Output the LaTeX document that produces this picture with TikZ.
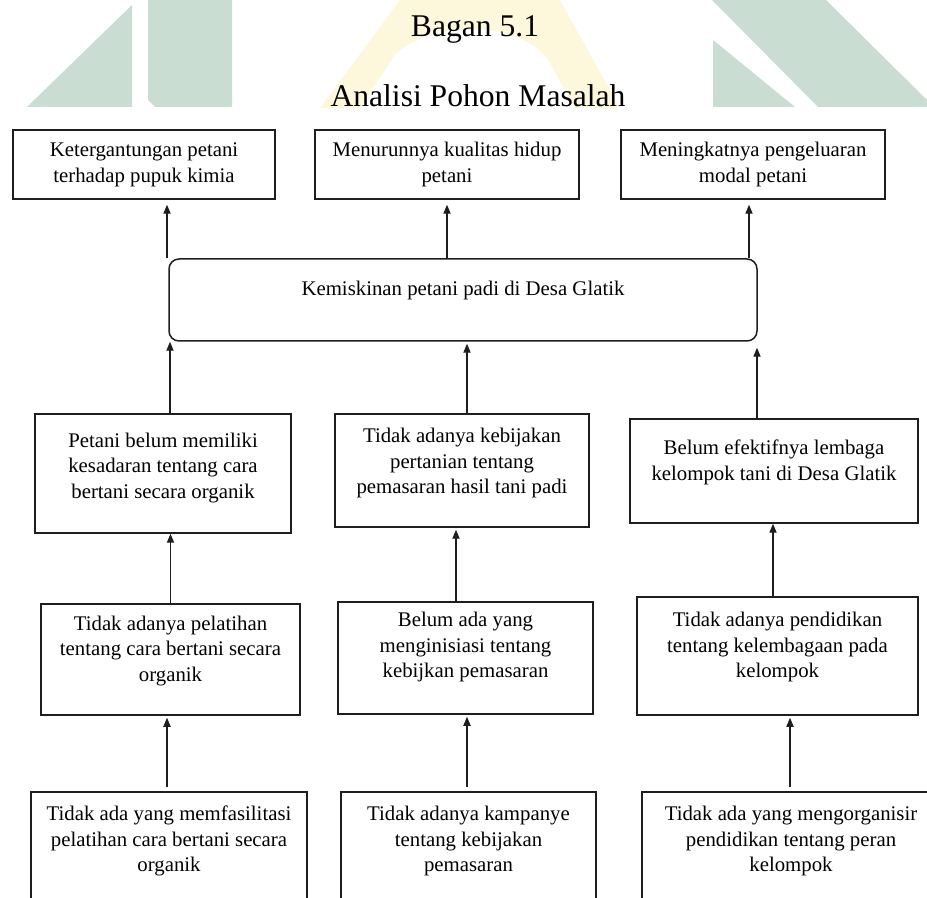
\documentclass[tikz,border=0pt]{standalone}
\usepackage{fontspec}
\setmainfont{Liberation Serif}
\usetikzlibrary{arrows.meta}
\definecolor{vertfond}{RGB}{201,221,210}
\definecolor{jaunefond}{RGB}{253,248,220}
\definecolor{trait}{RGB}{30,30,30}
\tikzset{
  cadre/.style={draw=trait, line width=0.75pt, rectangle, inner sep=0pt},
  texte/.style={align=center, inner sep=0pt, font=\fontsize{10.4}{12.9}\selectfont},
  titre/.style={anchor=base, inner sep=0pt, font=\fontsize{15.8}{19}\selectfont},
  fleche/.style={draw=trait, line width=0.55pt, -{Triangle[length=4.5pt,width=3.6pt]}},
}

\begin{document}
\begin{tikzpicture}[x=0.5pt, y=-0.5pt]
\useasboundingbox (0,0) rectangle (927,898);
\clip (0,0) rectangle (927,898);
% filigrane
\fill[vertfond] (27,107) -- (132,5) -- (132,107) -- cycle;
\fill[vertfond] (148,0) -- (232,0) -- (232,107) -- (155,107) -- (148,100) -- cycle;
\fill[vertfond] (712,0) -- (826,0) -- (927,100) -- (927,107) -- (818,107) -- cycle;
\fill[vertfond] (713,40) -- (795,107) -- (713,107) -- cycle;
\fill[jaunefond] (320,108) -- (400,0) -- (560,0) -- (620,108) -- cycle;
\fill[white] (360,108) -- (395,55) .. controls (430,20) and (520,20) .. (548,60) -- (575,108) -- cycle;
% titre
\node[titre] (bagan) at (475,37) {Bagan 5.1};
\node[titre] (judul) at (478,107) {Analisi Pohon Masalah};
% cadres du haut
\node[cadre, minimum width=131pt, minimum height=34.5pt] (k1) at (144,164.5) {};
\node[cadre, minimum width=132pt, minimum height=34.5pt] (k2) at (447,164.5) {};
\node[cadre, minimum width=132pt, minimum height=34.5pt] (k3) at (753,164.5) {};
\node[texte] (k1t) at (k1.center) {Ketergantungan petani\\terhadap pupuk kimia};
\node[texte] (k2t) at (k2.center) {Menurunnya kualitas hidup\\petani};
\node[texte] (k3t) at (k3.center) {Meningkatnya pengeluaran\\modal petani};
% probleme central
\node[cadre, rounded corners=5pt, minimum width=294pt, minimum height=41pt] (big) at (463,300) {};
\node[texte] (bigt) at ([yshift=4.5pt]big.center) {Kemiskinan petani padi di Desa Glatik};
% causes
\node[cadre, minimum width=128pt, minimum height=59.5pt] (p1) at (163,473.5) {};
\node[cadre, minimum width=127pt, minimum height=56.5pt] (p2) at (462,470.5) {};
\node[cadre, minimum width=144pt, minimum height=52pt] (p3) at (774,471) {};
\node[texte] (p1t) at ([yshift=2.75pt]p1.center) {Petani belum memiliki\\kesadaran tentang cara\\bertani secara organik};
\node[texte] (p2t) at ([yshift=3.75pt]p2.center) {Tidak adanya kebijakan\\pertanian tentang\\pemasaran hasil tani padi};
\node[texte] (p3t) at ([yshift=4.5pt]p3.center) {Belum efektifnya lembaga\\kelompok tani di Desa Glatik};
\node[cadre, minimum width=129.5pt, minimum height=55.5pt] (t1) at (170.5,659.5) {};
\node[cadre, minimum width=127.5pt, minimum height=56pt] (t2) at (465.5,658) {};
\node[cadre, minimum width=140.5pt, minimum height=59pt] (t3) at (777.5,656) {};
\node[texte] (t1t) at ([yshift=4.25pt]t1.center) {Tidak adanya pelatihan\\tentang cara bertani secara\\organik};
\node[texte] (t2t) at ([yshift=5.5pt]t2.center) {Belum ada yang\\menginisiasi tentang\\kebijkan pemasaran};
\node[texte] (t3t) at ([yshift=4.5pt]t3.center) {Tidak adanya pendidikan\\tentang kelembagaan pada\\kelompok};
\node[cadre, minimum width=138pt, minimum height=84pt] (b1) at (169,876) {};
\node[cadre, minimum width=127.5pt, minimum height=84pt] (b2) at (468.5,876) {};
\node[cadre, minimum width=149pt, minimum height=84pt] (b3) at (791,876) {};
\node[texte] (b1t) at ([yshift=17.5pt]b1.center) {Tidak ada yang memfasilitasi\\pelatihan cara bertani secara\\organik};
\node[texte] (b2t) at ([yshift=17.5pt]b2.center) {Tidak adanya kampanye\\tentang kebijakan\\pemasaran};
\node[texte] (b3t) at ([yshift=17.5pt]b3.center) {Tidak ada yang mengorganisir\\pendidikan tentang peran\\kelompok};
% fleches
\draw[fleche, shorten >=2.5pt] ([xshift=11.5pt]k1.south |- big.north) -- ([xshift=11.5pt]k1.south);
\draw[fleche, shorten >=2.5pt] (k2.south |- big.north) -- (k2.south);
\draw[fleche, shorten >=2.5pt] ([xshift=-2pt]k3.south |- big.north) -- ([xshift=-2pt]k3.south);
\draw[fleche] ([xshift=3.5pt]p1.north) -- ([xshift=3.5pt]p1.north |- big.south);
\draw[fleche, shorten >=1pt] ([xshift=2.5pt]p2.north) -- ([xshift=2.5pt]p2.north |- big.south);
\draw[fleche, shorten >=3pt] ([xshift=-8.5pt]p3.north) -- ([xshift=-8.5pt]p3.north |- big.south);
\draw[fleche] (t1.north) -- (t1.north |- p1.south);
\draw[fleche, shorten >=1pt] ([xshift=-4.75pt]t2.north) -- ([xshift=-4.75pt]t2.north |- p2.south);
\draw[fleche] ([xshift=-2.25pt]t3.north) -- ([xshift=-2.25pt]t3.north |- p3.south);
\draw[fleche, shorten <=2pt, shorten >=1pt] ([xshift=-1pt]b1.north) -- ([xshift=-1pt]b1.north |- t1.south);
\draw[fleche, shorten <=2pt, shorten >=1pt] ([xshift=-0.75pt]b2.north) -- ([xshift=-0.75pt]b2.north |- t2.south);
\draw[fleche, shorten <=2pt, shorten >=1pt] ([xshift=-0.5pt]b3.north) -- ([xshift=-0.5pt]b3.north |- t3.south);
\end{tikzpicture}
\end{document}
